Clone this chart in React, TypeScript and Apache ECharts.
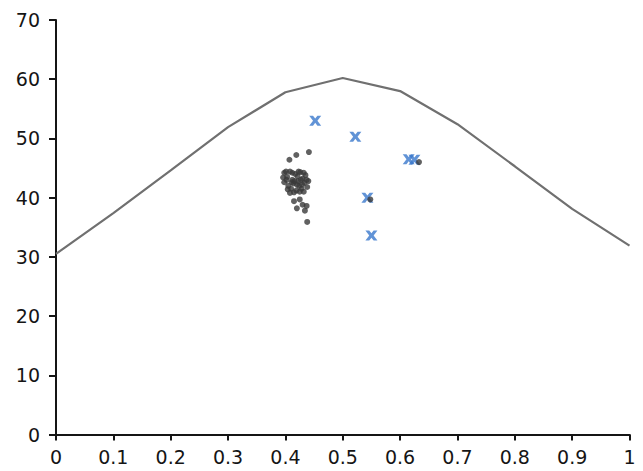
import React, { useEffect, useRef } from "react";
import * as echarts from "echarts";

const curveX = [0, 0.1, 0.2, 0.3, 0.4, 0.5, 0.6, 0.7, 0.8, 0.9, 1];
const curveY = [30.5, 37.4, 44.6, 51.9, 57.8, 60.2, 58.0, 52.4, 45.3, 38.1, 31.9];

const crossPoints: [number, number][] = [
  [0.452, 53.0],
  [0.522, 50.3],
  [0.615, 46.5],
  [0.625, 46.4],
  [0.543, 40.0],
  [0.55, 33.6],
];

const dotPoints: [number, number][] = [
  [0.441, 47.7], [0.419, 47.2], [0.407, 46.4],
  [0.398, 44.2], [0.403, 43.5], [0.408, 44.4], [0.412, 43.0], [0.417, 44.0],
  [0.421, 43.6], [0.426, 44.3], [0.43, 43.2], [0.435, 43.8], [0.398, 42.6],
  [0.405, 42.0], [0.41, 41.5], [0.414, 42.4], [0.419, 41.2], [0.424, 42.0],
  [0.428, 41.5], [0.433, 42.5], [0.438, 41.8], [0.402, 43.0], [0.416, 42.8],
  [0.422, 42.8], [0.427, 43.0], [0.44, 42.8], [0.412, 44.2], [0.432, 41.0],
  [0.408, 40.8], [0.396, 43.4], [0.401, 44.4], [0.423, 44.4], [0.432, 44.2],
  [0.437, 43.0], [0.411, 42.6], [0.42, 42.2], [0.429, 42.2], [0.404, 41.4],
  [0.415, 40.9], [0.425, 41.0],
  [0.415, 39.4], [0.42, 38.2], [0.425, 39.7], [0.43, 38.8], [0.434, 37.8], [0.437, 38.6],
  [0.438, 35.9],
  [0.633, 46.0], [0.548, 39.7],
];

const crossPath =
  "path://M0,0 L3.8,0 L6,2.8 L8.2,0 L12,0 L8.2,5 L12,10 L8.2,10 L6,7.2 L3.8,10 L0,10 L3.8,5 Z";

export default function App() {
  const ref = useRef<HTMLDivElement>(null);
  useEffect(() => {
    document.body.style.margin = "0";
    if (!ref.current) return;
    const chart = echarts.init(ref.current, null, { renderer: "svg" });
    const labelStyle = {
      color: "#151515",
      fontFamily: "DejaVu Sans",
      fontSize: 19,
    };
    chart.setOption({
      animation: false,
      grid: { left: 56, right: 13.5, top: 20, bottom: 36.5 },
      xAxis: {
        type: "value",
        min: 0,
        max: 1,
        interval: 0.1,
        splitLine: { show: false },
        axisLine: { show: true, lineStyle: { color: "#151515", width: 2 } },
        axisTick: { show: true, length: 6, lineStyle: { color: "#151515", width: 2 } },
        axisLabel: {
          ...labelStyle,
          margin: 13,
          formatter: (v: number) => String(Math.round(v * 10) / 10),
        },
      },
      yAxis: {
        type: "value",
        min: 0,
        max: 70,
        interval: 10,
        splitLine: { show: false },
        axisLine: { show: true, lineStyle: { color: "#151515", width: 2 } },
        axisTick: { show: true, length: 7, lineStyle: { color: "#151515", width: 2 } },
        axisLabel: { ...labelStyle, margin: 16 },
      },
      series: [
        {
          type: "line",
          data: curveX.map((x, i) => [x, curveY[i]]),
          showSymbol: false,
          lineStyle: { color: "#707070", width: 2.2 },
          z: 3,
        },
        {
          type: "scatter",
          data: crossPoints,
          symbol: crossPath,
          symbolSize: [12, 10],
          itemStyle: { color: "#3a78cc" },
          z: 4,
        },
        {
          type: "scatter",
          data: dotPoints,
          symbol: "circle",
          symbolSize: 6,
          itemStyle: { color: "#3a3a3a" },
          z: 5,
        },
      ],
    });
    return () => chart.dispose();
  }, []);
  return <div ref={ref} style={{ width: 643, height: 471 }} />;
}
